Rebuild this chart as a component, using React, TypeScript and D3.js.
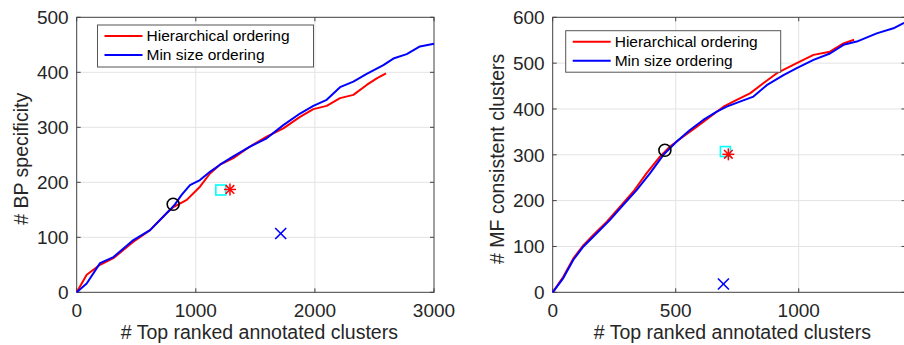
import * as d3 from 'd3'

// BP panel (left)
const bpHierX = [0, 84, 196, 308, 476, 616, 756, 812, 924, 1035, 1119, 1203, 1315, 1455, 1595, 1735, 1875, 1987, 2099, 2211, 2323, 2435, 2519, 2597]
const bpHierY = [0, 32, 50, 62, 92, 113, 144, 155, 168, 192, 216, 232, 244, 265, 283, 298, 319, 333, 339, 353, 359, 377, 389, 398]
const bpMinX = [0, 84, 196, 308, 476, 616, 783, 825, 881, 951, 1035, 1119, 1203, 1315, 1455, 1595, 1735, 1875, 1987, 2099, 2211, 2323, 2435, 2575, 2659, 2771, 2882, 3000]
const bpMinY = [0, 16, 53, 64, 95, 113, 150, 160, 177, 195, 204, 219, 232, 247, 265, 280, 304, 325, 339, 350, 373, 383, 397, 413, 425, 433, 447, 452]
const bpXTicks = [0, 1000, 2000, 3000]
const bpYTicks = [0, 100, 200, 300, 400, 500]
// single points: circle, square, asterisk, cross
const bpMarks = [[810, 160], [1210, 186], [1287, 187], [1713, 107]]

// MF panel (right)
const mfHierX = [0, 43, 84, 125, 165, 220, 274, 328, 382, 436, 477, 531, 585, 640, 694, 748, 802, 856, 911, 992, 1060, 1127, 1182, 1225]
const mfHierY = [0, 34, 74, 103, 125, 154, 187, 220, 260, 296, 318, 340, 361, 383, 405, 420, 434, 456, 478, 500, 518, 525, 543, 551]
const mfMinX = [0, 43, 84, 125, 179, 233, 287, 341, 396, 450, 504, 558, 612, 667, 707, 761, 816, 870, 938, 992, 1060, 1127, 1182, 1236, 1317, 1385, 1428]
const mfMinY = [0, 31, 71, 100, 129, 158, 191, 223, 260, 300, 329, 354, 376, 394, 405, 416, 427, 452, 474, 489, 507, 521, 540, 547, 565, 576, 588]
const mfXTicks = [0, 500, 1000]
const mfYTicks = [0, 100, 200, 300, 400, 500, 600]
const mfMarks = [[456, 310], [702, 307], [714, 301], [694, 18]]

const legendLabels = ['Hierarchical ordering', 'Min size ordering']

const FONT = '"Liberation Sans", Arial, Helvetica, sans-serif'
const TXT = '#262626'
const AX = '#404040'

function zip(xs: number[], ys: number[]): [number, number][] {
  return xs.map((x, i) => [x, ys[i]])
}

interface PanelProps {
  left: number
  right: number
  xMax: number
  yMax: number
  xTicks: number[]
  yTicks: number[]
  hier: [number, number][]
  minSize: [number, number][]
  marks: number[][]
  yLabel: string
  yLabelX: number
  legend: { x: number; y: number; w: number; h: number }
}

function Panel(p: PanelProps) {
  const top = 17.3
  const bottom = 292.3
  const x = d3.scaleLinear().domain([0, p.xMax]).range([p.left, p.right])
  const y = d3.scaleLinear().domain([0, p.yMax]).range([bottom, top])
  const line = d3.line<[number, number]>().x(d => x(d[0])).y(d => y(d[1]))
  const tl = 4
  const [circ, sq, ast, cr] = p.marks
  const s = 6
  const xGrid = p.xTicks.filter(t => t > 0 && t < p.xMax)
  return (
    <g fontFamily={FONT}>
      {/* grid */}
      {xGrid.map(t => (
        <line key={'gx' + t} x1={x(t)} x2={x(t)} y1={top} y2={bottom} stroke="#e3e3e3" strokeWidth={1} />
      ))}
      {p.yTicks.slice(1, -1).map(t => (
        <line key={'gy' + t} x1={p.left} x2={p.right} y1={y(t)} y2={y(t)} stroke="#e3e3e3" strokeWidth={1} />
      ))}
      {/* ticks inside */}
      {p.xTicks.map(t => (
        <g key={'tx' + t}>
          <line x1={x(t)} x2={x(t)} y1={bottom} y2={bottom - tl} stroke={AX} />
          <line x1={x(t)} x2={x(t)} y1={top} y2={top + tl} stroke={AX} />
        </g>
      ))}
      {p.yTicks.map(t => (
        <g key={'ty' + t}>
          <line x1={p.left} x2={p.left + tl} y1={y(t)} y2={y(t)} stroke={AX} />
          <line x1={p.right} x2={p.right - tl} y1={y(t)} y2={y(t)} stroke={AX} />
        </g>
      ))}
      {/* box */}
      <rect x={p.left} y={top} width={p.right - p.left} height={bottom - top} fill="none" stroke={AX} strokeWidth={1} />
      {/* tick labels */}
      {p.xTicks.map(t => (
        <text key={'lx' + t} x={x(t)} y={317} textAnchor="middle" fontSize={19} fill={TXT}>{t}</text>
      ))}
      {p.yTicks.map(t => (
        <text key={'ly' + t} x={p.left - 8} y={y(t)} dy="0.36em" textAnchor="end" fontSize={19} fill={TXT}>{t}</text>
      ))}
      {/* axis labels */}
      <text x={(p.left + Math.min(p.right, 904)) / 2 + 4} y={339} textAnchor="middle" fontSize={19.5} fill={TXT}># Top ranked annotated clusters</text>
      <text transform={`translate(${p.yLabelX},${(top + bottom) / 2 + 4}) rotate(-90)`} textAnchor="middle" dy="0.35em" fontSize={19.5} fill={TXT}>{p.yLabel}</text>
      {/* curves */}
      <path d={line(p.hier) || ''} fill="none" stroke="#ff0000" strokeWidth={2} strokeLinejoin="round" />
      <path d={line(p.minSize) || ''} fill="none" stroke="#0000ff" strokeWidth={2} strokeLinejoin="round" />
      {/* single markers */}
      <circle cx={x(circ[0])} cy={y(circ[1])} r={6} fill="none" stroke="#000" strokeWidth={1.6} />
      <rect x={x(sq[0]) - 5} y={y(sq[1]) - 5} width={10} height={10} fill="none" stroke="#00ffff" strokeWidth={1.6} />
      <g stroke="#ff0000" strokeWidth={1.5}>
        <line x1={x(ast[0]) - s} x2={x(ast[0]) + s} y1={y(ast[1])} y2={y(ast[1])} />
        <line x1={x(ast[0])} x2={x(ast[0])} y1={y(ast[1]) - s} y2={y(ast[1]) + s} />
        <line x1={x(ast[0]) - 4.3} x2={x(ast[0]) + 4.3} y1={y(ast[1]) - 4.3} y2={y(ast[1]) + 4.3} />
        <line x1={x(ast[0]) - 4.3} x2={x(ast[0]) + 4.3} y1={y(ast[1]) + 4.3} y2={y(ast[1]) - 4.3} />
      </g>
      <g stroke="#0000ff" strokeWidth={1.6}>
        <line x1={x(cr[0]) - 5.5} x2={x(cr[0]) + 5.5} y1={y(cr[1]) - 5.5} y2={y(cr[1]) + 5.5} />
        <line x1={x(cr[0]) - 5.5} x2={x(cr[0]) + 5.5} y1={y(cr[1]) + 5.5} y2={y(cr[1]) - 5.5} />
      </g>
      {/* legend */}
      <rect x={p.legend.x} y={p.legend.y} width={p.legend.w} height={p.legend.h} fill="#fff" stroke="#555" strokeWidth={1} />
      {legendLabels.map((lab, i) => {
        const ly = p.legend.y + 11 + i * 19
        return (
          <g key={lab}>
            <line x1={p.legend.x + 7} x2={p.legend.x + 45} y1={ly} y2={ly} stroke={i === 0 ? '#ff0000' : '#0000ff'} strokeWidth={2} />
            <text x={p.legend.x + 49} y={ly} dy="0.35em" fontSize={15.5} fill="#000">{lab}</text>
          </g>
        )
      })}
    </g>
  )
}

export default function App() {
  return (
    <svg width={904} height={345} style={{ position: 'absolute', left: 0, top: 0, background: '#fff' }}>
      <rect width={904} height={345} fill="#fff" />
      <Panel
        left={76.7}
        right={434}
        xMax={3000}
        yMax={500}
        xTicks={bpXTicks}
        yTicks={bpYTicks}
        hier={zip(bpHierX, bpHierY)}
        minSize={zip(bpMinX, bpMinY)}
        marks={bpMarks}
        yLabel="# BP specificity"
        yLabelX={21}
        legend={{ x: 97.5, y: 25, w: 216, h: 42 }}
      />
      <Panel
        left={552.7}
        right={905.5}
        xMax={1434}
        yMax={600}
        xTicks={mfXTicks}
        yTicks={mfYTicks}
        hier={zip(mfHierX, mfHierY)}
        minSize={zip(mfMinX, mfMinY)}
        marks={mfMarks}
        yLabel="# MF consistent clusters"
        yLabelX={497}
        legend={{ x: 565.7, y: 30.7, w: 215, h: 41.5 }}
      />
    </svg>
  )
}
